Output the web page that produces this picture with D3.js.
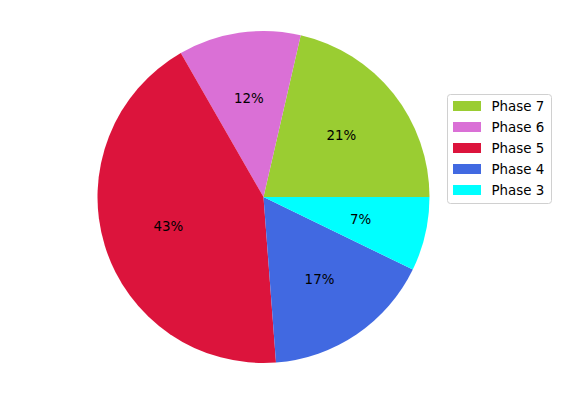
<!DOCTYPE html>
<html>
<head>
<meta charset="utf-8">
<script src="https://cdn.jsdelivr.net/npm/d3@7"></script>
<style>
  body { margin: 0; background: #fff; }
  text { font-family: "DejaVu Sans", sans-serif; }
</style>
</head>
<body>
<div id="chart"></div>
<script>
// data
const labels = ["Phase 7", "Phase 6", "Phase 5", "Phase 4", "Phase 3"];
const values = [21.4, 11.9, 42.9, 16.6, 7.2];
const colors = ["#9acd32", "#da70d6", "#dc143c", "#4169e1", "#00ffff"];

const width = 562, height = 396;
const cx = 263.5, cy = 197, r = 166;

const svg = d3.select("#chart").append("svg")
    .attr("width", width)
    .attr("height", height);

const g = svg.append("g").attr("transform", `translate(${cx},${cy})`);

// matplotlib style: start at 3 o'clock, go counterclockwise
const pie = d3.pie().sort(null)
    .startAngle(Math.PI / 2)
    .endAngle(Math.PI / 2 - 2 * Math.PI);

const arcs = pie(values);
const total = d3.sum(values);

const arc = d3.arc().innerRadius(0).outerRadius(r);
const labelArc = d3.arc().innerRadius(r * 0.6).outerRadius(r * 0.6);

g.selectAll("path")
    .data(arcs)
    .enter().append("path")
    .attr("d", arc)
    .attr("fill", (d, i) => colors[i]);

g.selectAll("text.pct")
    .data(arcs)
    .enter().append("text")
    .attr("class", "pct")
    .attr("transform", d => `translate(${labelArc.centroid(d)})`)
    .attr("text-anchor", "middle")
    .attr("dy", "0.35em")
    .style("font-size", "13.4px")
    .text(d => Math.round(d.value / total * 100) + "%");

// legend
const legend = svg.append("g").attr("transform", "translate(447.5,94.5)");
legend.append("rect")
    .attr("width", 104)
    .attr("height", 109)
    .attr("rx", 3)
    .attr("fill", "#fff")
    .attr("stroke", "#d0d0d0");

const item = legend.selectAll("g.item")
    .data(labels)
    .enter().append("g")
    .attr("class", "item")
    .attr("transform", (d, i) => `translate(0,${11.5 + i * 21})`);

item.append("rect")
    .attr("x", 5.5)
    .attr("y", -5)
    .attr("width", 28)
    .attr("height", 10)
    .attr("fill", (d, i) => colors[i]);

item.append("text")
    .attr("x", 44)
    .attr("dy", "0.35em")
    .style("font-size", "13.4px")
    .attr("fill", "#000")
    .text(d => d);
</script>
</body>
</html>
